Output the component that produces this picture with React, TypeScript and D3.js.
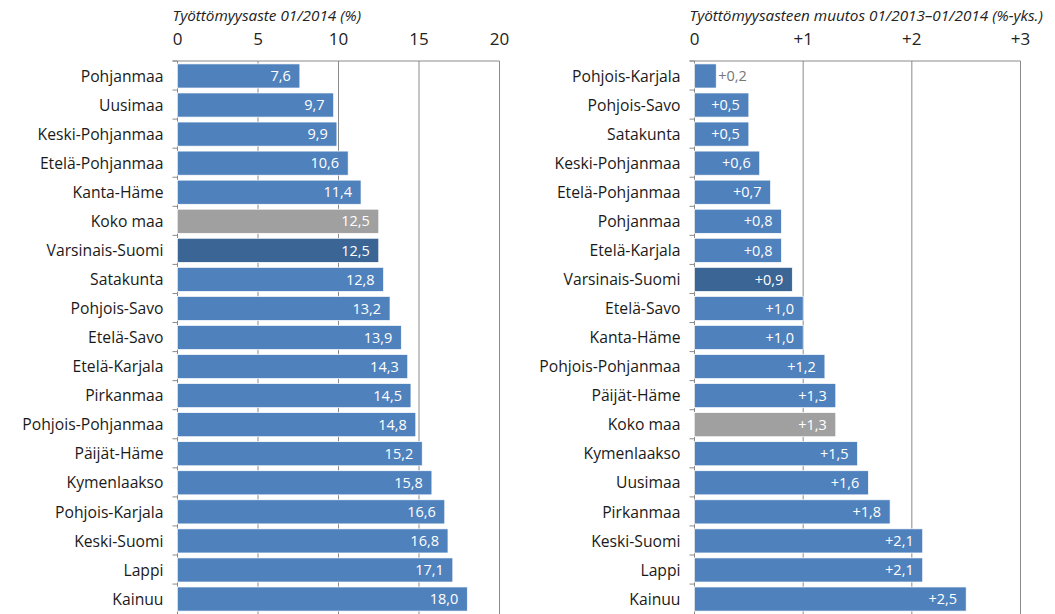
import React from "react";
import { scaleBand, scaleLinear } from "d3";

// vasen paneeli: työttömyysaste 01/2014
const rateRegions = [
  "Pohjanmaa", "Uusimaa", "Keski-Pohjanmaa", "Etelä-Pohjanmaa", "Kanta-Häme",
  "Koko maa", "Varsinais-Suomi", "Satakunta", "Pohjois-Savo", "Etelä-Savo",
  "Etelä-Karjala", "Pirkanmaa", "Pohjois-Pohjanmaa", "Päijät-Häme", "Kymenlaakso",
  "Pohjois-Karjala", "Keski-Suomi", "Lappi", "Kainuu",
];
const rateValues = [
  7.6, 9.7, 9.9, 10.6, 11.4, 12.5, 12.5, 12.8, 13.2, 13.9,
  14.3, 14.5, 14.8, 15.2, 15.8, 16.6, 16.8, 17.1, 18.0,
];
const rateTicks = [0, 5, 10, 15, 20];

// oikea paneeli: muutos 01/2013–01/2014
const changeRegions = [
  "Pohjois-Karjala", "Pohjois-Savo", "Satakunta", "Keski-Pohjanmaa", "Etelä-Pohjanmaa",
  "Pohjanmaa", "Etelä-Karjala", "Varsinais-Suomi", "Etelä-Savo", "Kanta-Häme",
  "Pohjois-Pohjanmaa", "Päijät-Häme", "Koko maa", "Kymenlaakso", "Uusimaa",
  "Pirkanmaa", "Keski-Suomi", "Lappi", "Kainuu",
];
const changeValues = [
  0.2, 0.5, 0.5, 0.6, 0.7, 0.8, 0.8, 0.9, 1.0, 1.0,
  1.2, 1.3, 1.3, 1.5, 1.6, 1.8, 2.1, 2.1, 2.5,
];
const changeTicks = [0, 1, 2, 3];

const FONT = "'Open Sans', sans-serif";
const blue = "#4f81bd";
const darkBlue = "#3a6594";
const grey = "#a0a0a0";
const gridColor = "#8a8a8a";

const top = 61;
const bottom = 614;

const barColor = (name) =>
  name === "Koko maa" ? grey : name === "Varsinais-Suomi" ? darkBlue : blue;

const fmt = (v, plus) => (plus ? "+" : "") + v.toFixed(1).replace(".", ",");

const Panel = ({ title, titleSize, regions, values, ticks, x0, x1, max, plus }) => {
  const xScale = scaleLinear().domain([0, max]).range([x0, x1]);
  const yScale = scaleBand()
    .domain(regions)
    .range([top, bottom])
    .paddingInner(0.17)
    .paddingOuter(0.1);
  const step = yScale.step();

  return (
    <g>
      <text
        x={x0 - 5}
        y={21}
        fontSize={titleSize}
        fontStyle="italic"
        fill="#222"
        fontFamily={FONT}
      >
        {title}
      </text>
      {ticks.map((t) => (
        <g key={t}>
          <line
            x1={xScale(t)}
            x2={xScale(t)}
            y1={top}
            y2={bottom}
            stroke={gridColor}
            strokeWidth={1}
          />
          <text
            x={xScale(t)}
            y={45}
            textAnchor="middle"
            fontSize={17}
            fill="#222"
            fontFamily={FONT}
          >
            {plus && t > 0 ? "+" + t : t}
          </text>
        </g>
      ))}
      <line x1={x0 - 5} x2={x1} y1={top} y2={top} stroke={gridColor} />
      {regions.map((r, i) => (
        <line
          key={"t" + i}
          x1={x0 - 5}
          x2={x0}
          y1={top + i * step}
          y2={top + i * step}
          stroke={gridColor}
        />
      ))}
      {regions.map((r, i) => {
        const v = values[i];
        const w = xScale(v) - x0;
        const y = yScale(r);
        const inside = w > 30;
        return (
          <g key={r}>
            <rect
              x={x0}
              y={y}
              width={w}
              height={yScale.bandwidth()}
              fill={barColor(r)}
              stroke="#ffffff"
              strokeWidth={0.7}
            />
            <text
              x={inside ? xScale(v) - 9 : xScale(v) + 2}
              y={y + yScale.bandwidth() / 2}
              dy="0.36em"
              textAnchor={inside ? "end" : "start"}
              fontSize={14.5}
              fill={inside ? "#ffffff" : "#777"}
              fontFamily={FONT}
            >
              {fmt(v, plus)}
            </text>
            <text
              x={x0 - 14}
              y={y + yScale.bandwidth() / 2}
              dy="0.36em"
              textAnchor="end"
              fontSize={15.7}
              fill="#1a1a1a"
              fontFamily={FONT}
            >
              {r}
            </text>
          </g>
        );
      })}
    </g>
  );
};

const App = () => {
  return (
    <svg
      width={1055}
      height={614}
      style={{ position: "absolute", left: 0, top: 0, background: "#fff" }}
    >
      <Panel
        title="Työttömyysaste 01/2014 (%)"
        titleSize={15.3}
        regions={rateRegions}
        values={rateValues}
        ticks={rateTicks}
        x0={177.5}
        x1={499.5}
        max={20}
        plus={false}
      />
      <Panel
        title="Työttömyysasteen muutos 01/2013–01/2014 (%-yks.)"
        titleSize={15.3}
        regions={changeRegions}
        values={changeValues}
        ticks={changeTicks}
        x0={694.5}
        x1={1020.5}
        max={3}
        plus={true}
      />
    </svg>
  );
};

export default App;
